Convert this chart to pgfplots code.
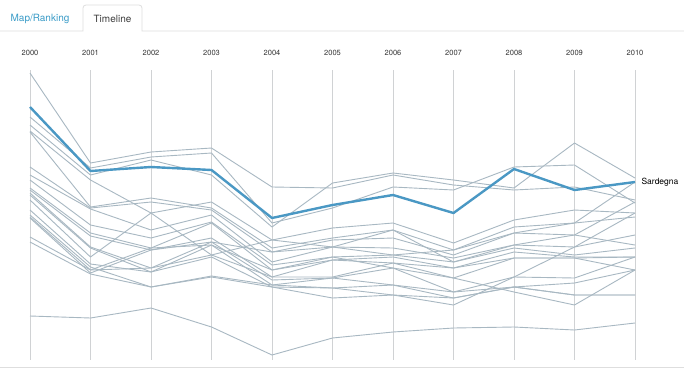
\documentclass[border=0pt]{standalone}
\usepackage{fontspec}
\setmainfont{TeX Gyre Heros}
\usepackage{pgfplots}
\pgfplotsset{compat=1.18}
\definecolor{lg}{RGB}{168,184,194}
\definecolor{sb}{RGB}{74,152,196}
\definecolor{gridc}{RGB}{208,210,212}
\definecolor{tabblue}{RGB}{58,156,200}
\definecolor{rule}{RGB}{222,222,222}
\begin{document}
\begin{tikzpicture}[x=1pt,y=1pt]
\path[use as bounding box, fill=white] (0,0) rectangle (684,378);
% tabs
\draw[rule, line width=0.8pt] (0,347) -- (83,347) -- (83,370) arc[start angle=180,end angle=90,radius=3] -- (139,373) arc[start angle=90,end angle=0,radius=3] -- (142,347) -- (684,347);
\node[font=\fontsize{10}{12}\selectfont, text=tabblue] at (40,359) {Map/Ranking};
\node[font=\fontsize{10}{12}\selectfont, text=black!75] at (112.5,359) {Timeline};
\draw[rule, line width=1pt] (0,10.5) -- (684,10.5);
\begin{axis}[
  at={(30pt,18pt)}, anchor=south west,
  scale only axis, width=605pt, height=290pt,
  xmin=2000, xmax=2010, ymin=70, ymax=360, y dir=reverse,
  enlargelimits=false, clip=false,
  axis line style={draw=none},
  ytick=\empty,
  xtick={2000,2001,2002,2003,2004,2005,2006,2007,2008,2009,2010},
  xticklabels={2000,2001,2002,2003,2004,2005,2006,2007,2008,2009,2010},
  xticklabel pos=upper,
  major tick length=0pt,
  xticklabel style={font=\fontsize{7.5}{9}\selectfont, text=black!80, anchor=center, yshift=17pt},
  xmajorgrids, grid style={color=gridc, line width=0.9pt},
  every axis plot/.append style={no markers, line join=round},
]
\pgfplotsset{g/.style={color=lg, line width=0.9pt}}
\addplot[g] coordinates {(2000,73)(2001,163)(2002,152)(2003,148)(2004,187)(2005,188)(2006,175)(2007,185)(2008,190)(2009,187)(2010,200)};
\addplot[g] coordinates {(2000,117)(2001,168)(2002,157)(2003,153)(2004,223)(2005,208)(2006,187)(2007,190)(2008,167)(2009,165)(2010,203)};
\addplot[g] coordinates {(2000,125)(2001,175)(2002,160)(2003,175)(2004,227)(2005,183)(2006,173)(2007,180)(2008,188)(2009,143)(2010,178)};
\addplot[g] coordinates {(2000,131)(2001,180)(2002,213)(2003,202)(2004,240)(2005,228)(2006,223)(2007,243)(2008,220)(2009,210)(2010,213)};
\addplot[g] coordinates {(2000,132)(2001,207)(2002,198)(2003,208)(2004,248)(2005,238)(2006,230)(2007,250)(2008,227)(2009,223)(2010,217)};
\addplot[g] coordinates {(2000,167)(2001,208)(2002,202)(2003,210)(2004,252)(2005,240)(2006,238)(2007,255)(2008,233)(2009,235)(2010,245)};
\addplot[g] coordinates {(2000,175)(2001,209)(2002,230)(2003,215)(2004,262)(2005,247)(2006,248)(2007,258)(2008,245)(2009,247)(2010,235)};
\addplot[g] coordinates {(2000,180)(2001,225)(2002,238)(2003,222)(2004,265)(2005,257)(2006,255)(2007,262)(2008,248)(2009,255)(2010,248)};
\addplot[g] coordinates {(2000,188)(2001,233)(2002,248)(2003,223)(2004,270)(2005,260)(2006,257)(2007,268)(2008,252)(2009,257)(2010,257)};
\addplot[g] coordinates {(2000,190)(2001,236)(2002,250)(2003,238)(2004,277)(2005,277)(2006,263)(2007,278)(2008,258)(2009,258)(2010,270)};
\addplot[g] coordinates {(2000,193)(2001,247)(2002,268)(2003,242)(2004,280)(2005,278)(2006,268)(2007,292)(2008,277)(2009,278)(2010,257)};
\addplot[g] coordinates {(2000,195)(2001,248)(2002,272)(2003,245)(2004,285)(2005,288)(2006,285)(2007,298)(2008,287)(2009,283)(2010,270)};
\addplot[g] coordinates {(2000,200)(2001,257)(2002,213)(2003,255)(2004,240)(2005,247)(2006,230)(2007,262)(2008,245)(2009,235)(2010,202)};
\addplot[g] coordinates {(2000,210)(2001,264)(2002,272)(2003,257)(2004,287)(2005,298)(2006,295)(2007,305)(2008,277)(2009,247)(2010,213)};
\addplot[g] coordinates {(2000,215)(2001,267)(2002,287)(2003,277)(2004,287)(2005,288)(2006,295)(2007,298)(2008,287)(2009,295)(2010,295)};
\addplot[g] coordinates {(2000,217)(2001,270)(2002,248)(2003,245)(2004,270)(2005,257)(2006,268)(2007,278)(2008,292)(2009,305)(2010,270)};
\addplot[g] coordinates {(2000,218)(2001,273)(2002,250)(2003,242)(2004,252)(2005,247)(2006,255)(2007,250)(2008,233)(2009,223)(2010,182)};
\addplot[g] coordinates {(2000,237)(2001,270)(2002,268)(2003,255)(2004,277)(2005,260)(2006,263)(2007,268)(2008,258)(2009,258)(2010,257)};
\addplot[g] coordinates {(2000,242)(2001,274)(2002,287)(2003,276)(2004,285)(2005,278)(2006,285)(2007,292)(2008,287)(2009,295)(2010,295)};
\addplot[g] coordinates {(2000,316)(2001,318)(2002,308)(2003,327)(2004,355)(2005,338)(2006,332)(2007,328)(2008,327)(2009,330)(2010,323)};
\addplot[color=sb, line width=2.4pt] coordinates {(2000,107)(2001,171)(2002,167)(2003,170)(2004,218)(2005,205)(2006,195)(2007,213)(2008,169)(2009,190)(2010,182)}
  node[pos=1, right, xshift=2pt, font=\fontsize{8.5}{10}\selectfont, text=black] {Sardegna};
\end{axis}
\end{tikzpicture}
\end{document}
